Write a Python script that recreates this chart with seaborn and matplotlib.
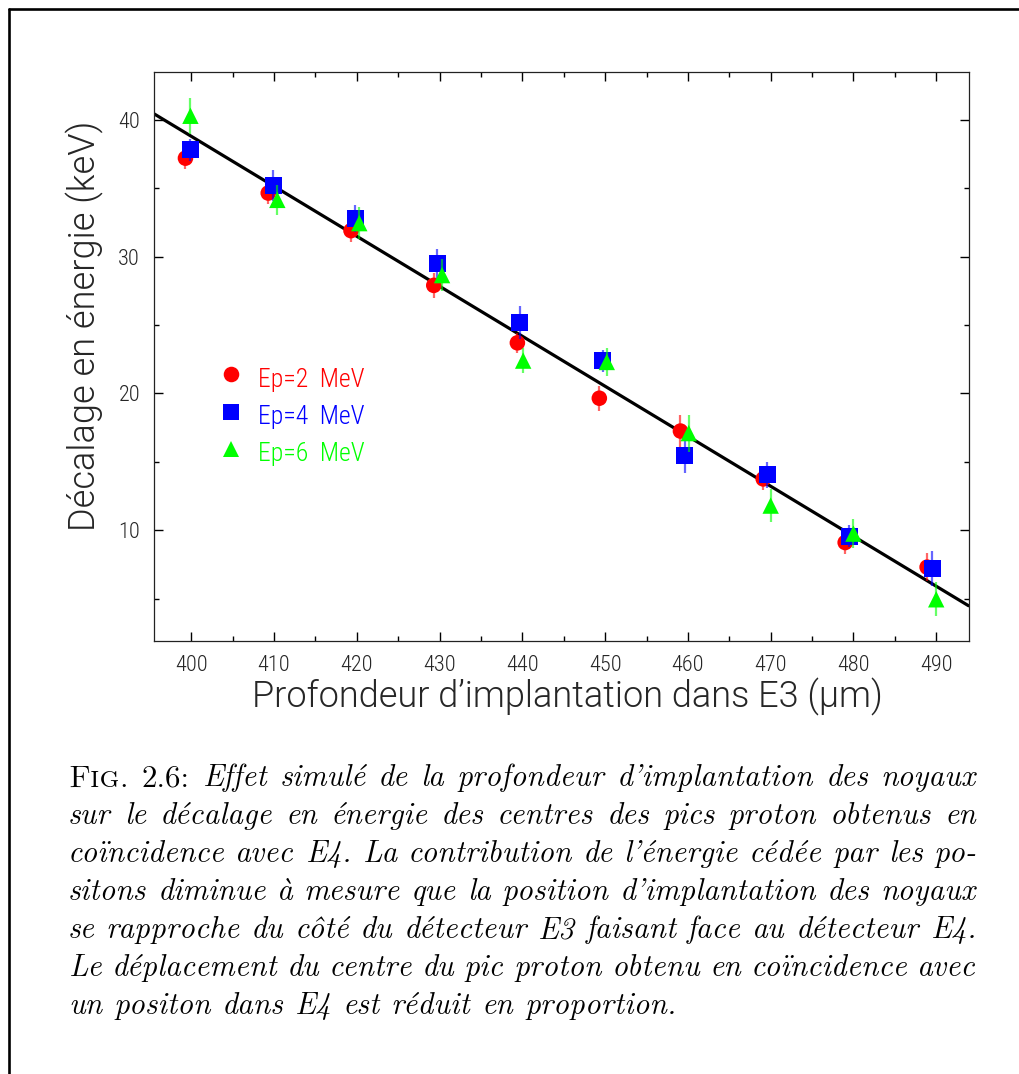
import matplotlib
matplotlib.use("Agg")
import numpy as np
import pandas as pd
import seaborn as sns
import matplotlib.pyplot as plt
from matplotlib.lines import Line2D
from matplotlib.transforms import IdentityTransform
from matplotlib.ticker import MultipleLocator

# ---------------- data ----------------
series_labels = ["Ep=2  MeV", "Ep=4  MeV", "Ep=6  MeV"]

depth_2 = [399.3, 409.3, 419.3, 429.3, 439.4, 449.3, 459.1, 469.1, 479.0, 488.9]
shift_2 = [37.2, 34.65, 31.9, 27.9, 23.7, 19.65, 17.25, 13.75, 9.1, 7.3]
err_2 = [0.8, 0.8, 0.8, 0.9, 0.75, 0.9, 1.15, 0.8, 0.85, 1.0]

depth_4 = [399.9, 409.9, 419.8, 429.7, 439.7, 449.7, 459.6, 469.6, 479.5, 489.5]
shift_4 = [37.8, 35.2, 32.8, 29.5, 25.2, 22.4, 15.45, 14.05, 9.55, 7.2]
err_4 = [0.8, 1.15, 1.0, 1.05, 1.2, 0.8, 1.25, 0.95, 0.8, 1.3]

depth_6 = [399.9, 410.4, 420.3, 430.3, 440.1, 450.2, 460.1, 470.0, 480.0, 490.0]
shift_6 = [40.3, 34.15, 32.45, 28.65, 22.4, 22.3, 17.1, 11.8, 9.75, 4.95]
err_6 = [1.3, 1.1, 1.15, 1.15, 0.9, 1.05, 1.35, 1.2, 1.05, 1.25]

fit_slope = -0.3655      # keV / um
fit_intercept = 185.0    # keV at depth 0

x_ticks = [400, 410, 420, 430, 440, 450, 460, 470, 480, 490]
y_ticks = [10, 20, 30, 40]

x_label = "Profondeur d’implantation dans E3 (µm)"
y_label = "Décalage en énergie (keV)"

caption_label_caps = "Fig."
caption_label_num = "2.6:"
caption_lines = [
    "Effet simulé de la profondeur d’implantation des noyaux",
    "sur le décalage en énergie des centres des pics proton obtenus en",
    "coïncidence avec E4. La contribution de l’énergie cédée par les po-",
    "sitons diminue à mesure que la position d’implantation des noyaux",
    "se rapproche du côté du détecteur E3 faisant face au détecteur E4.",
    "Le déplacement du centre du pic proton obtenu en coïncidence avec",
    "un positon dans E4 est réduit en proportion.",
]

# ---------------- styling ----------------
colors = {"Ep=2  MeV": "#ff0000", "Ep=4  MeV": "#0000ff", "Ep=6  MeV": "#00ff00"}
markers = {"Ep=2  MeV": "o", "Ep=4  MeV": "s", "Ep=6  MeV": "^"}
msize = {"Ep=2  MeV": 11.2, "Ep=4  MeV": 12.2, "Ep=6  MeV": 11.8}

sns.set_theme(style="ticks")
plt.rcParams["font.family"] = ["Roboto Condensed", "DejaVu Sans"]
plt.rcParams["font.weight"] = 300
plt.rcParams["axes.unicode_minus"] = False

W, H = 1019, 1074
fig = plt.figure(figsize=(W / 100, H / 100), dpi=100, facecolor="white")
ax = fig.add_axes([154 / W, 1 - 641 / H, (968.5 - 154) / W, (641 - 72) / H])
ax.set_facecolor("white")

xlim = (395.5, 493.9)
ylim = (1.9, 43.5)

df = pd.DataFrame({
    "depth": depth_2 + depth_4 + depth_6,
    "shift": shift_2 + shift_4 + shift_6,
    "err": err_2 + err_4 + err_6,
    "series": [series_labels[0]] * len(depth_2) + [series_labels[1]] * len(depth_4)
              + [series_labels[2]] * len(depth_6),
})

# fit line
line_x = np.array(xlim)
line_y = fit_intercept + fit_slope * line_x
sns.lineplot(x=line_x, y=line_y, ax=ax, color="black", linewidth=2.3, zorder=2)

for i, lab in enumerate(series_labels):
    sub = df[df["series"] == lab]
    ax.errorbar(sub["depth"], sub["shift"], yerr=sub["err"], fmt="none",
                ecolor=colors[lab], alpha=0.6, elinewidth=1.6, capsize=0,
                zorder=3 + 2 * i)
    sns.scatterplot(data=sub, x="depth", y="shift", ax=ax, marker=markers[lab],
                    color=colors[lab], s=msize[lab] ** 2, linewidth=0,
                    edgecolor="none", legend=False, zorder=4 + 2 * i)

ax.set_xlim(*xlim)
ax.set_ylim(*ylim)
ax.set_xticks(x_ticks)
ax.set_yticks(y_ticks)
ax.set_xticklabels([str(v) for v in x_ticks])
ax.set_yticklabels([str(v) for v in y_ticks])
ax.xaxis.set_minor_locator(MultipleLocator(5))
ax.yaxis.set_minor_locator(MultipleLocator(5))
ax.tick_params(which="both", direction="in", top=True, right=True,
               labeltop=False, labelright=False, color="black", width=1.0)
ax.tick_params(which="major", length=6.2, labelsize=16, pad=10)
ax.tick_params(which="minor", length=3.5)
for lbl in ax.get_xticklabels() + ax.get_yticklabels():
    lbl.set_fontweight(300)
for sp in ax.spines.values():
    sp.set_linewidth(0.9)
    sp.set_color("#222222")
    sp.set_visible(True)

ax.set_xlabel(x_label, fontsize=26, fontweight=300, family=["Roboto", "DejaVu Sans"])
ax.set_ylabel(y_label, fontsize=26, fontweight=300, family=["Roboto", "DejaVu Sans"])
ax.xaxis.label.set_va("center")
ax.yaxis.label.set_va("center")
ax.xaxis.set_label_coords(0.5077, -0.098)
ax.yaxis.set_label_coords(-0.0847, 0.554)

# legend drawn in axes coordinates
leg_rows_y = [374, 411.5, 449]
for lab, yp in zip(series_labels, leg_rows_y):
    fy = (641 - yp) / 569
    ax.plot([(231 - 154) / 814.5], [fy], transform=ax.transAxes, marker=markers[lab],
            color=colors[lab], markersize=msize[lab], markeredgewidth=0,
            linestyle="none", clip_on=False, zorder=10)
    ax.text((258 - 154) / 814.5, (641 - (yp + 12.5)) / 569, lab, transform=ax.transAxes,
            color=colors[lab], fontsize=18.5, fontweight=300, va="baseline", ha="left")

# page frame lines
fig.add_artist(Line2D([9 / W, 9 / W], [1 - 9 / H, 0], transform=fig.transFigure,
                      color="black", linewidth=1.9))
fig.add_artist(Line2D([9 / W, 1], [1 - 9 / H, 1 - 9 / H], transform=fig.transFigure,
                      color="black", linewidth=1.9))

# caption, justified
renderer = fig.canvas.get_renderer()
cap_fs = 22.3
em_px = cap_fs * 100 / 72
left_px, right_px = 68, 976
base0, lead = 786.5, 38.0
ident = IdentityTransform()


def make_token(text, kind):
    if kind == "caps":
        kw = dict(family="Latin Modern Roman Caps", style="normal")
    elif kind == "rm":
        kw = dict(family="Latin Modern Roman", style="normal")
    else:
        kw = dict(family="Latin Modern Roman", style="italic")
    return fig.text(0, 0, text, transform=ident, fontsize=cap_fs, fontweight="normal",
                    va="baseline", ha="left", color="black", **kw)


for li, line in enumerate(caption_lines):
    tokens = []
    if li == 0:
        tokens.append(make_token(caption_label_caps, "caps"))
        tokens.append(make_token(caption_label_num, "rm"))
    for w in line.split(" "):
        tokens.append(make_token(w, "it"))
    widths = [t.get_window_extent(renderer).width for t in tokens]
    last = li == len(caption_lines) - 1
    if last:
        gap = 0.36 * em_px
    else:
        gap = (right_px - left_px - sum(widths)) / (len(tokens) - 1)
    x = left_px
    ybase = H - (base0 + li * lead)
    for t, wdt in zip(tokens, widths):
        t.set_position((x, ybase))
        x += wdt + gap

fig.savefig("out.png", dpi=100, facecolor="white")
